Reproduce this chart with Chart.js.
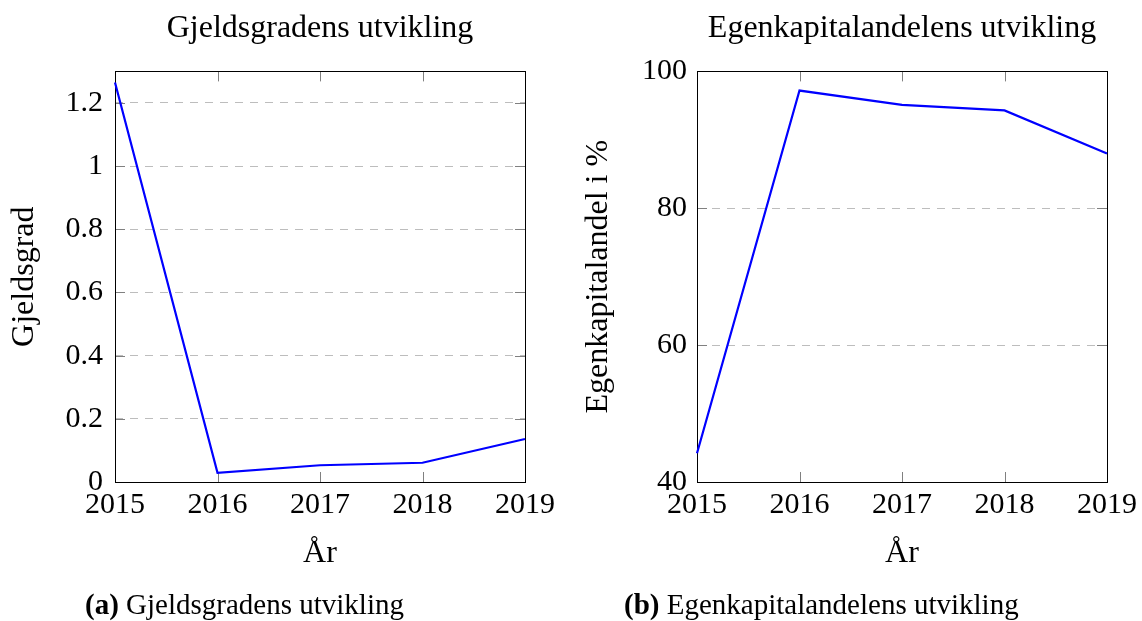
<!DOCTYPE html>
<html>
<head>
<meta charset="utf-8">
<script src="https://cdn.jsdelivr.net/npm/chart.js@4"></script>
<style>
  html, body { margin: 0; padding: 0; background: #fff; }
  body { width: 1142px; height: 621px; position: relative; overflow: hidden; font-family: "Liberation Serif", serif; }
  .box { position: absolute; top: 0; width: 571px; height: 621px; }
  .cap { position: absolute; top: 590px; font-size: 29px; line-height: 29px; white-space: nowrap; color: #000; }
</style>
</head>
<body>
<div class="box" style="left:0"><canvas id="gjeldChart" width="571" height="621"></canvas></div>
<div class="box" style="left:571px"><canvas id="ekChart" width="571" height="621"></canvas></div>
<div class="cap" style="left:85px"><b>(a)</b> Gjeldsgradens utvikling</div>
<div class="cap" style="left:624px"><b>(b)</b> Egenkapitalandelens utvikling</div>
<script>
// Data
const years = ['2015', '2016', '2017', '2018', '2019'];
const gjeldsgrad = [1.265, 0.029, 0.053, 0.061, 0.136];
const egenkapitalandel = [44.2, 97.2, 95.1, 94.3, 88.0];
const gjeldTicks = [0, 0.2, 0.4, 0.6, 0.8, 1, 1.2];
const ekTicks = [40, 60, 80, 100];

Chart.defaults.font.family = '"Liberation Serif", "Times New Roman", serif';
Chart.defaults.color = '#000';

// Box around the plot with small inward ticks on every side
const frameTicks = {
    id: 'frameTicks',
    beforeDatasetsDraw(chart) {
        const {ctx, chartArea: a, scales: {x, y}} = chart;
        const len = 10;
        ctx.save();
        ctx.strokeStyle = '#808080';
        ctx.lineWidth = 1;
        ctx.beginPath();
        x.ticks.forEach((t, i) => {
            const px = Math.round(x.getPixelForTick(i)) + 0.5;
            ctx.moveTo(px, a.bottom); ctx.lineTo(px, a.bottom - len);
            ctx.moveTo(px, a.top); ctx.lineTo(px, a.top + len);
        });
        y.ticks.forEach((t, i) => {
            const py = Math.round(y.getPixelForTick(i)) + 0.5;
            ctx.moveTo(a.left, py); ctx.lineTo(a.left + len, py);
            ctx.moveTo(a.right, py); ctx.lineTo(a.right - len, py);
        });
        ctx.stroke();
        ctx.strokeStyle = '#000';
        ctx.strokeRect(Math.round(a.left) + 0.5, Math.round(a.top) + 0.5,
            Math.round(a.right - a.left), Math.round(a.bottom - a.top));
        ctx.restore();
    }
};

function xScale() {
    return {
        afterFit: s => { s.height = 100; },
        ticks: { padding: 5, font: { size: 30 }, maxRotation: 0, autoSkip: false },
        grid: { display: false, drawTicks: false },
        border: { display: false },
        title: { display: true, text: 'År', font: { size: 32 }, padding: { top: 0, bottom: 9 } }
    };
}

// Gjeldsgrad chart
const gjeldCtx = document.getElementById('gjeldChart').getContext('2d');
const gjeldChart = new Chart(gjeldCtx, {
    type: 'line',
    data: {
        labels: years,
        datasets: [{
            data: gjeldsgrad,
            borderColor: '#0000ff',
            borderWidth: 2.2,
            pointRadius: 0,
            fill: false,
            tension: 0
        }]
    },
    options: {
        responsive: false,
        animation: false,
        layout: { padding: { left: 0, right: 46, top: 0, bottom: 39 } },
        scales: {
            x: xScale(),
            y: {
                min: 0,
                max: 1.3,
                afterBuildTicks: s => { s.ticks = gjeldTicks.map(v => ({ value: v })); },
                afterFit: s => { s.width = 115; },
                ticks: { padding: 12, font: { size: 30 }, callback: v => String(v) },
                grid: { color: '#bdbdbd', drawTicks: false },
                border: { display: false, dash: [8, 7] },
                title: { display: true, text: 'Gjeldsgrad', font: { size: 32 }, padding: { top: 5, bottom: 0 } }
            }
        },
        plugins: {
            legend: { display: false },
            tooltip: { enabled: false },
            title: {
                display: true,
                text: 'Gjeldsgradens utvikling',
                fullSize: false,
                color: '#000',
                font: { size: 32, weight: 'normal' },
                padding: { top: 9, bottom: 24 }
            }
        }
    },
    plugins: [frameTicks]
});

// Egenkapitalandel chart
const ekCtx = document.getElementById('ekChart').getContext('2d');
const ekChart = new Chart(ekCtx, {
    type: 'line',
    data: {
        labels: years,
        datasets: [{
            data: egenkapitalandel,
            borderColor: '#0000ff',
            borderWidth: 2.2,
            pointRadius: 0,
            fill: false,
            tension: 0
        }]
    },
    options: {
        responsive: false,
        animation: false,
        layout: { padding: { left: 0, right: 35, top: 0, bottom: 39 } },
        scales: {
            x: xScale(),
            y: {
                min: 40,
                max: 100,
                afterBuildTicks: s => { s.ticks = ekTicks.map(v => ({ value: v })); },
                afterFit: s => { s.width = 126; },
                ticks: { padding: 10, font: { size: 30 }, callback: v => String(v) },
                grid: { color: '#bdbdbd', drawTicks: false },
                border: { display: false, dash: [8, 7] },
                title: { display: true, text: 'Egenkapitalandel i %', font: { size: 32 }, padding: { top: 8, bottom: 0 } }
            }
        },
        plugins: {
            legend: { display: false },
            tooltip: { enabled: false },
            title: {
                display: true,
                text: 'Egenkapitalandelens utvikling',
                fullSize: false,
                color: '#000',
                font: { size: 32, weight: 'normal' },
                padding: { top: 9, bottom: 24 }
            }
        }
    },
    plugins: [frameTicks]
});
</script>
</body>
</html>
